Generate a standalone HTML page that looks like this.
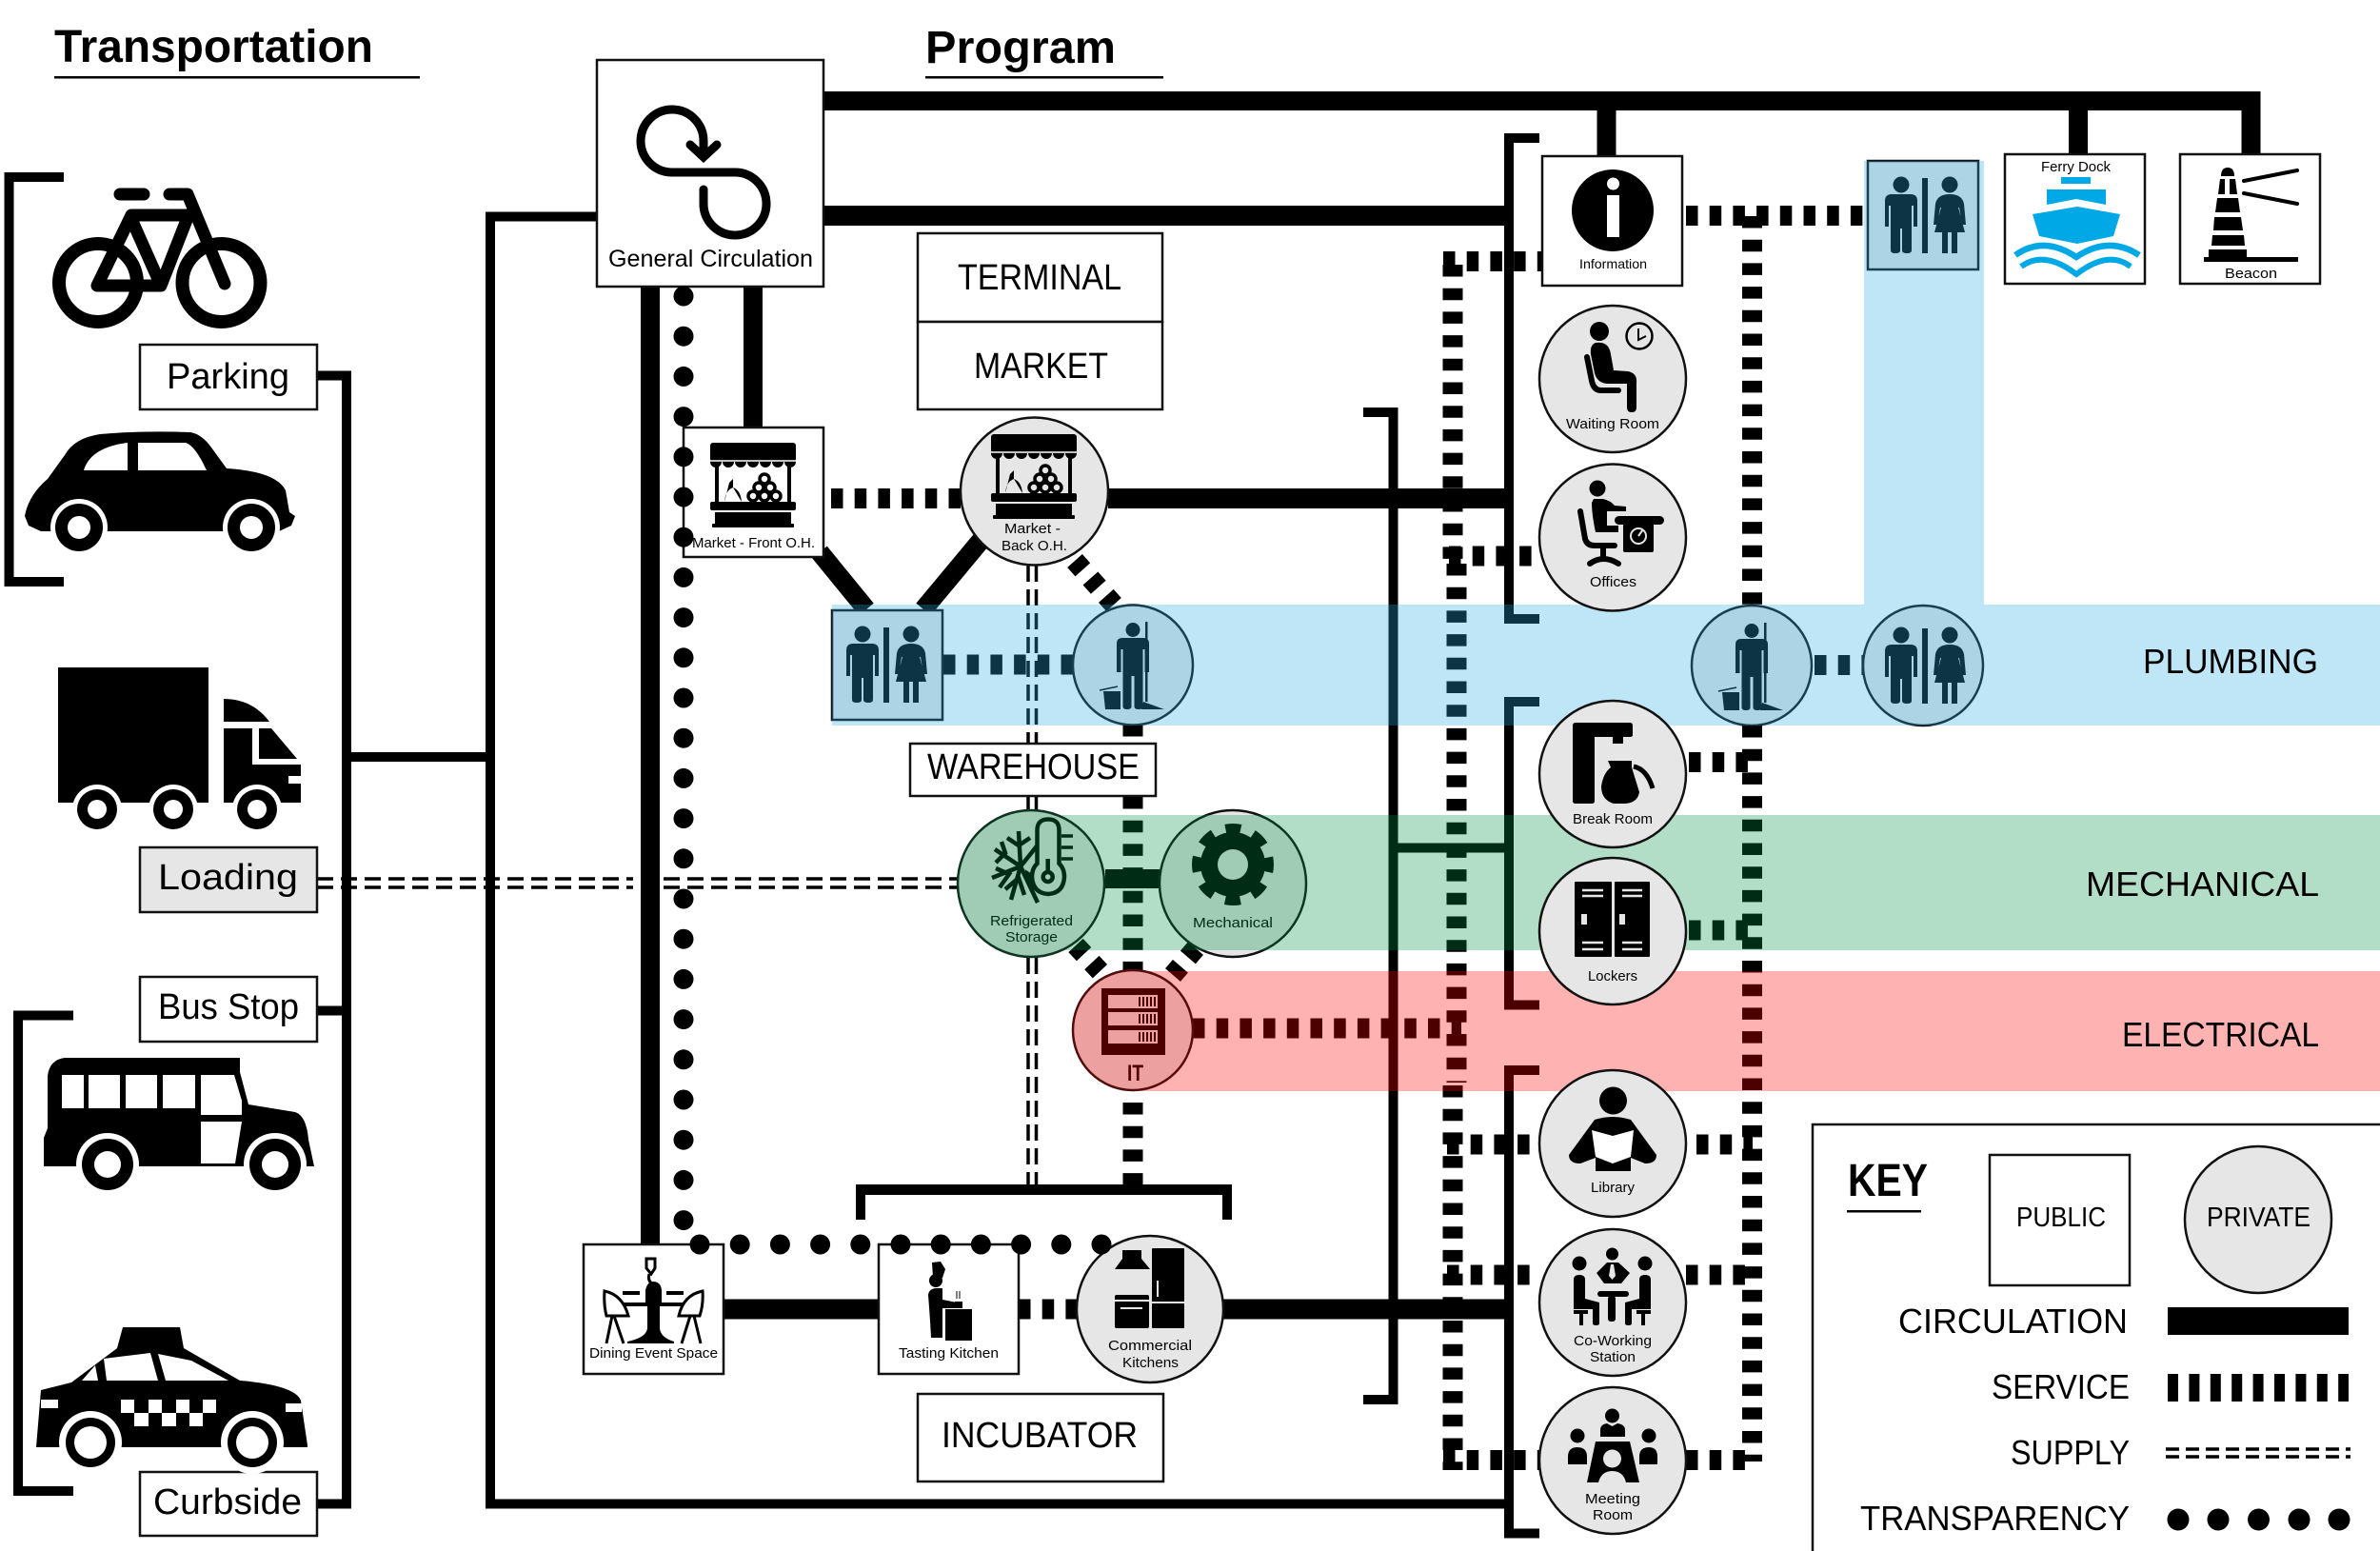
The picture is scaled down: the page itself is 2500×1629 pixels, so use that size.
<!DOCTYPE html>
<html><head><meta charset="utf-8"><style>
html,body{margin:0;padding:0;background:#fff}
svg{display:block}
text{font-family:"Liberation Sans",sans-serif;fill:#000}
.c{fill:none;stroke:#000}
.s{fill:none;stroke:#000;stroke-width:21;stroke-dasharray:12.5 12.2}
.d{fill:none;stroke:#000;stroke-width:21;stroke-linecap:round;stroke-dasharray:0 42.2}
.u{fill:none;stroke:#000;stroke-width:3.5;stroke-dasharray:17 8}
.b{fill:#fff;stroke:#111;stroke-width:2.5}
.g{fill:#e6e6e6;stroke:#111;stroke-width:2.5}
</style></head><body>
<svg xmlns="http://www.w3.org/2000/svg" width="2500" height="1629" viewBox="0 0 2500 1629">
<defs>
<g id="rr" fill="#000">
<circle cx="-23" cy="-32" r="8.5"/>
<path d="M-40 12V-15Q-40-22-33-22H-13Q-6-22-6-15V12H-10V-10H-12V37Q-12 40-17 40Q-22 40-22 37V14H-24V37Q-24 40-29 40Q-34 40-34 37V-10H-36V12Z"/>
<rect x="-1" y="-39" width="6" height="79"/>
<circle cx="28" cy="-32" r="8.5"/>
<path d="M11 10L13-12Q15-22 28-22Q41-22 43-12L45 10H41L38-8H37L44 18H36V40H30V18H26V40H20V18H12L19-8H18L15 10Z"/>
</g>
<g id="jan" fill="#000">
<circle cx="0" cy="-36.5" r="7.5"/>
<path d="M-17 8V-22Q-17-28-11-28H11Q17-28 17-22V8H12.5V-16H10.5V44Q10.5 47 6 47Q1.5 47 1.5 44V12H-1.5V44Q-1.5 47-6 47Q-10.5 47-10.5 44V-16H-12.5V8Z"/>
<rect x="13" y="-45" width="2.5" height="84"/>
<path d="M11 39L33 47H9Z"/>
<path d="M-31 28H-13V47H-29Z"/>
<path d="M-35 27L-16 23" stroke="#000" stroke-width="1.5"/>
</g>
<g id="stall">
<rect x="0" y="0" width="90" height="20" rx="3"/>
<g><circle cx="6" cy="20" r="6"/><circle cx="19" cy="20" r="6"/><circle cx="32" cy="20" r="6"/><circle cx="45" cy="20" r="6"/><circle cx="58" cy="20" r="6"/><circle cx="71" cy="20" r="6"/><circle cx="84" cy="20" r="6"/></g>
<path d="M0 19H90" stroke="#fff" stroke-width="1.5"/>
<rect x="5" y="24" width="4" height="40"/><rect x="81" y="24" width="4" height="40"/>
<rect x="0" y="62" width="90" height="9" rx="2"/>
<rect x="5" y="73" width="80" height="14"/><rect x="2" y="85" width="86" height="4" rx="1"/>
<path d="M15 62Q16 50 24 47L24 38L20 42M24 47Q32 50 33 62Z"/>
<g fill="none" stroke="#000" stroke-width="3.5"><circle cx="45" cy="56" r="5"/><circle cx="57" cy="56" r="5"/><circle cx="69" cy="56" r="5"/><circle cx="51" cy="47" r="5"/><circle cx="63" cy="47" r="5"/><circle cx="57" cy="38" r="5"/></g>
</g>
<clipPath id="gc"><circle cx="1083" cy="928" r="78"/><rect x="1083" y="856" width="1417" height="142"/></clipPath>
<clipPath id="rc"><circle cx="1190" cy="1082" r="64"/><rect x="1190" y="1020" width="1310" height="126"/></clipPath>
</defs>

<!-- headings -->
<text x="57" y="65" font-size="48" font-weight="700" textLength="335" lengthAdjust="spacingAndGlyphs">Transportation</text>
<rect x="57" y="80" width="384" height="2.5"/>
<text x="972" y="66" font-size="48" font-weight="700" textLength="200" lengthAdjust="spacingAndGlyphs">Program</text>
<rect x="972" y="80" width="250" height="2.5"/>

<!-- left connectors -->
<path class="c" stroke-width="10" d="M333 394.5H364V1579.5H333M369 795H515M627 227.5H515V1579.5H1585"/>
<path class="c" stroke-width="10" d="M333 1061.5H364"/>
<path class="c" stroke-width="10" d="M67 186H9.5V611H67"/>
<path class="c" stroke-width="10" d="M77 1066.5H19V1566H77"/>

<!-- supply horizontal -->
<path class="u" d="M333 923H665M333 932H665M697 923H1010M697 932H1010"/>

<!-- thick -->
<path class="c" stroke-width="20" d="M683 301V1310M791 301V449"/>
<path class="c" stroke-width="20" d="M865 106H2364.5V162M1687.5 106V164M2183 106V162"/>
<path class="c" stroke-width="21" d="M865 226.5H1585M1164 523.5H1585M760 1375H923M1285 1375H1585"/>
<path class="c" stroke-width="20" d="M861 580L910 640M1030 568L970 640"/>
<path class="c" stroke-width="20" d="M1161 923H1218"/>

<!-- centre bracket -->
<path class="c" stroke-width="10" d="M1432 433H1463.5V1470H1432M1468 890.5H1585"/>
<!-- right brackets -->
<path class="c" stroke-width="10" d="M1617 145H1585V650H1617"/>
<path class="c" stroke-width="10" d="M1617 737H1585V1055.5H1617"/>
<path class="c" stroke-width="10" d="M1617 1124H1585V1610.5H1617"/>
<!-- incubator bracket -->
<path d="M899 1281V1244H1294V1281H1284V1255H909V1281Z"/>

<!-- supply verticals -->
<path class="u" stroke-dasharray="18 8" d="M1080 594V781M1088.5 594V781M1080 836V855M1088.5 836V855M1080 1006V1244M1088.5 1006V1244"/>

<!-- service -->
<path class="s" d="M873 523.5H1009"/>
<path class="s" d="M1129 589L1170 635" stroke-width="20"/>
<path class="s" d="M991 698H1127"/>
<path class="s" d="M1190 761V781M1190 837V1020"/>
<path class="s" d="M1190 1158V1244"/>
<path class="s" d="M1130 993L1160 1025"/>
<path class="s" d="M1256 996L1232 1024"/>
<path class="s" d="M1253 1080H1535"/>
<path class="s" d="M1070 1375H1132"/>
<path class="s" d="M1526 278V590"/>
<path class="s" d="M1530 592V1137"/>
<path class="s" d="M1526 1140V1544"/>
<path class="s" d="M1840.5 227V636"/>
<path class="s" d="M1840.5 762V1535"/>
<path class="s" d="M1516 274.5H1621"/>
<path class="s" d="M1522 584H1617"/>
<path class="s" d="M1520 1202H1617"/>
<path class="s" d="M1520 1339H1617"/>
<path class="s" d="M1516 1533.5H1617"/>
<path class="s" d="M1771 226.5H1962"/>
<path class="s" d="M1774 800.5H1841"/>
<path class="s" d="M1774 977H1841"/>
<path class="s" d="M1782 1202H1841"/>
<path class="s" d="M1771 1339H1841"/>
<path class="s" d="M1771 1533.5H1841"/>
<path class="s" d="M1906 698.5H1957"/>

<!-- tinted elements -->
<rect class="g" x="874" y="641" width="116" height="115"/>
<use href="#rr" x="929" y="698"/>
<rect class="g" x="1962" y="169" width="116" height="114"/>
<use href="#rr" x="2020" y="226"/>
<circle class="g" cx="1190" cy="698.5" r="63"/>
<use href="#jan" x="1190" y="698"/>
<circle class="g" cx="1840" cy="699" r="63"/>
<use href="#jan" x="1840" y="699"/>
<circle class="g" cx="2020" cy="699" r="63"/>
<use href="#rr" x="2020" y="699"/>
<circle class="g" cx="1083" cy="928" r="77"/>
<circle class="g" cx="1295" cy="928" r="77"/>
<circle class="g" cx="1190" cy="1082" r="63"/>
<!-- refrigerated icon -->
<g fill="none" stroke="#000" stroke-width="4.5">
<path d="M1072 910L1070 873M1072 910L1045 892M1072 910L1042 922M1072 910L1062 945M1072 910L1090 948M1072 910L1092 885"/>
<path d="M1058 880L1070 888L1082 880M1046 906L1056 896L1052 884M1050 932L1060 918L1046 912M1076 940L1070 922L1056 934M1092 926L1080 918L1084 936"/>
<path d="M1089.5 907V872Q1089.5 860.5 1101 860.5Q1112.5 860.5 1112.5 872V907Q1118 912 1118 921Q1117 938 1101 939Q1085 938 1084 921Q1084 912 1089.5 907Z" fill="#e6e6e6"/>
<circle cx="1100.7" cy="921" r="5"/><path d="M1100.7 902V916"/>
<path d="M1115 878H1127M1115 890H1127M1115 902H1127" stroke-width="3.5"/>
</g>
<!-- gear -->
<circle cx="1295" cy="908" r="34"/>
<circle cx="1295" cy="908" r="38" fill="none" stroke="#000" stroke-width="10" stroke-dasharray="16 13.85" stroke-dashoffset="8"/>
<circle cx="1295" cy="908" r="16" fill="#e6e6e6"/>
<!-- IT icon -->
<rect x="1157" y="1038" width="67" height="70"/>
<g fill="#e6e6e6"><rect x="1164" y="1045" width="52" height="14"/><rect x="1164" y="1063" width="52" height="14"/><rect x="1164" y="1082" width="52" height="14"/></g>
<path d="M1197 1047V1057M1201 1047V1057M1205 1047V1057M1209 1047V1057M1213 1047V1057M1197 1065V1075M1201 1065V1075M1205 1065V1075M1209 1065V1075M1213 1065V1075M1197 1084V1094M1201 1084V1094M1205 1084V1094M1209 1084V1094M1213 1084V1094" stroke="#000" stroke-width="2"/>
<text x="1184" y="1135" font-size="24" font-weight="700" textLength="17" lengthAdjust="spacingAndGlyphs">IT</text>
<text x="1040" y="972" font-size="15" textLength="87" lengthAdjust="spacingAndGlyphs">Refrigerated</text>
<text x="1056" y="989" font-size="15" textLength="55" lengthAdjust="spacingAndGlyphs">Storage</text>
<text x="1253" y="974" font-size="15" textLength="84" lengthAdjust="spacingAndGlyphs">Mechanical</text>

<!-- bands -->
<rect x="874" y="635" width="1626" height="127" fill="#29abe2" fill-opacity=".3"/>
<rect x="1958" y="169" width="126" height="466" fill="#29abe2" fill-opacity=".3"/>
<rect x="1000" y="850" width="1500" height="160" fill="#009245" fill-opacity=".3" clip-path="url(#gc)"/>
<rect x="1120" y="1015" width="1380" height="135" fill="#ff0000" fill-opacity=".3" clip-path="url(#rc)"/>
<text x="2251" y="707" font-size="36" textLength="184" lengthAdjust="spacingAndGlyphs">PLUMBING</text>
<text x="2191" y="941" font-size="36" textLength="245" lengthAdjust="spacingAndGlyphs">MECHANICAL</text>
<text x="2229" y="1099" font-size="36" textLength="207" lengthAdjust="spacingAndGlyphs">ELECTRICAL</text>

<!-- transportation boxes -->
<rect class="b" x="147" y="362" width="186" height="68"/>
<text x="175" y="408" font-size="38" textLength="129" lengthAdjust="spacingAndGlyphs">Parking</text>
<rect class="g" x="147" y="890" width="186" height="68"/>
<text x="166" y="934" font-size="38" textLength="147" lengthAdjust="spacingAndGlyphs">Loading</text>
<rect class="b" x="147" y="1026" width="186" height="68"/>
<text x="166" y="1070" font-size="38" textLength="148" lengthAdjust="spacingAndGlyphs">Bus Stop</text>
<rect class="b" x="147" y="1546" width="186" height="67"/>
<text x="161" y="1590" font-size="38" textLength="156" lengthAdjust="spacingAndGlyphs">Curbside</text>

<!-- bicycle -->
<g fill="none" stroke="#000" stroke-linecap="round" stroke-linejoin="round">
<circle cx="103" cy="297" r="41" stroke-width="14"/><circle cx="232.5" cy="297" r="41" stroke-width="14"/>
<path d="M126 204H151M178 204H197L236 298M138 226H198M138 226L102 300H169L198 226M138 230L166 293" stroke-width="13"/>
</g>
<!-- car -->
<path d="M26 542Q30 520 50 503L68 478Q78 460 105 456Q150 452 200 454Q212 456 222 470L238 492Q290 495 300 515L304 538L310 542L306 552L293 558H43L30 552Z"/>
<path d="M88 494Q95 470 134 465V494ZM145 465H195Q205 468 217 494H145Z" fill="#fff"/>
<circle cx="83" cy="554" r="30" fill="#fff"/><circle cx="83" cy="554" r="25"/><circle cx="83" cy="554" r="12" fill="#fff"/>
<circle cx="264" cy="554" r="30" fill="#fff"/><circle cx="264" cy="554" r="25"/><circle cx="264" cy="554" r="12" fill="#fff"/>
<rect x="40" y="558" width="18" height="3" fill="#fff"/><rect x="110" y="558" width="125" height="3" fill="#fff"/>
<!-- truck -->
<rect x="61" y="701" width="158" height="142"/>
<path d="M235 734Q265 734 283 758H235ZM272 765H285L312 797H272ZM235 765H265V803H316V843H235Z"/>
<rect x="303" y="815" width="13" height="8" fill="#fff"/>
<circle cx="102" cy="850" r="26" fill="#fff"/><circle cx="102" cy="850" r="21"/><circle cx="102" cy="850" r="10" fill="#fff"/>
<circle cx="182" cy="850" r="26" fill="#fff"/><circle cx="182" cy="850" r="21"/><circle cx="182" cy="850" r="10" fill="#fff"/>
<circle cx="270" cy="850" r="26" fill="#fff"/><circle cx="270" cy="850" r="21"/><circle cx="270" cy="850" r="10" fill="#fff"/>
<!-- bus -->
<path d="M46 1225V1195L50 1185V1130Q52 1113 68 1111H252V1126L261 1160L310 1168Q322 1172 324 1197L330 1225Z"/>
<path fill="#fff" d="M65 1129H88V1164H65ZM93 1129H126V1164H93ZM132 1129H165V1164H132ZM171 1129H205V1164H171ZM211 1129H246L254 1156V1171H211ZM211 1178H254L247 1222H211Z"/>
<circle cx="113" cy="1223" r="33" fill="#fff"/><circle cx="113" cy="1223" r="27"/><circle cx="113" cy="1223" r="14" fill="#fff"/>
<circle cx="289" cy="1223" r="33" fill="#fff"/><circle cx="289" cy="1223" r="27"/><circle cx="289" cy="1223" r="14" fill="#fff"/>
<!-- taxi -->
<path d="M129 1394H189L193 1416L252 1450Q310 1455 316 1471L323 1518V1520H38L43 1460L75 1452L123 1416Z"/>
<path fill="#fff" d="M86 1450L100 1434L103 1450ZM112 1450L109 1427L158 1421L166 1450ZM174 1450L166 1422L201 1429L240 1450Z"/>
<path fill="#fff" d="M127 1470h14v14h-14zM156 1470h14v14h-14zM185 1470h14v14h-14zM213 1470h14v14h-14zM141 1484h15v14h-15zM170 1484h15v14h-15zM199 1484h14v14h-14zM43 1470h18v9H43zM300 1474h17v9h-17z"/>
<circle cx="95" cy="1515" r="33" fill="#fff"/><circle cx="95" cy="1515" r="26"/><circle cx="95" cy="1515" r="17" fill="#fff"/>
<circle cx="265" cy="1515" r="33" fill="#fff"/><circle cx="265" cy="1515" r="26"/><circle cx="265" cy="1515" r="17" fill="#fff"/>

<!-- general circulation -->
<rect class="b" x="627" y="63" width="238" height="238"/>
<path d="M739 163V148A33 33 0 1 0 705 181H772A33 33 0 1 1 739 214V199" fill="none" stroke="#000" stroke-width="9" stroke-linecap="round"/>
<path d="M725 152L739 165L753 152" fill="none" stroke="#000" stroke-width="9" stroke-linecap="round"/>
<text x="639" y="280" font-size="25" textLength="215" lengthAdjust="spacingAndGlyphs">General Circulation</text>

<!-- program boxes -->
<rect class="b" x="964" y="245" width="257" height="93"/>
<text x="1006" y="304" font-size="38" textLength="172" lengthAdjust="spacingAndGlyphs">TERMINAL</text>
<rect class="b" x="964" y="338" width="257" height="92"/>
<text x="1023" y="397" font-size="38" textLength="141" lengthAdjust="spacingAndGlyphs">MARKET</text>
<rect class="b" x="956" y="781" width="258" height="55"/>
<text x="974" y="818" font-size="38" textLength="223" lengthAdjust="spacingAndGlyphs">WAREHOUSE</text>
<rect class="b" x="964" y="1464" width="258" height="92"/>
<text x="989" y="1520" font-size="38" textLength="206" lengthAdjust="spacingAndGlyphs">INCUBATOR</text>

<!-- market -->
<rect class="b" x="718" y="449" width="147" height="136"/>
<use href="#stall" x="746" y="465"/>
<text x="727" y="575" font-size="15" textLength="129" lengthAdjust="spacingAndGlyphs">Market - Front O.H.</text>
<circle class="g" cx="1086.5" cy="516" r="77.5"/>
<use href="#stall" x="1041" y="456"/>
<text x="1055" y="560" font-size="15" textLength="59" lengthAdjust="spacingAndGlyphs">Market -</text>
<text x="1052" y="578" font-size="15" textLength="69" lengthAdjust="spacingAndGlyphs">Back O.H.</text>

<!-- dining -->
<rect class="b" x="613" y="1307" width="147" height="136"/>
<g>
<path d="M679 1322H688L688 1332L684 1338L679 1332Z" fill="#fff" stroke="#000" stroke-width="3"/>
<path d="M682 1338Q680 1345 685 1348" fill="none" stroke="#000" stroke-width="3"/>
<path d="M678 1355Q680 1346 686 1346Q694 1346 695 1355V1368H720V1372H650V1368H678Z"/>
<path d="M680 1372H693V1395Q694 1405 708 1409V1411H659V1409Q679 1405 680 1395Z"/>
<rect x="654" y="1356" width="18" height="4"/><rect x="700" y="1356" width="18" height="4"/>
<path d="M635 1356Q654 1360 660 1382H637Q634 1370 635 1356ZM738 1356Q718 1360 713 1382H735Q739 1370 738 1356Z" fill="#fff" stroke="#000" stroke-width="3"/>
<path d="M643 1382L637 1411M645 1382L655 1411M729 1382L736 1411M725 1382L716 1411" stroke="#000" stroke-width="3"/>
</g>
<text x="619" y="1426" font-size="15" textLength="135" lengthAdjust="spacingAndGlyphs">Dining Event Space</text>

<!-- tasting -->
<rect class="b" x="923" y="1307" width="147" height="136"/>
<g>
<path d="M979 1326L988 1325L993 1333L990 1342H980Z"/>
<circle cx="983" cy="1345" r="7"/>
<path d="M975 1360Q976 1353 984 1353H990V1365L1005 1368V1374H990V1405H978Q977 1385 975 1360Z"/>
<rect x="993" y="1375" width="28" height="33"/>
<rect x="1003" y="1367" width="8" height="7"/>
<path d="M1005 1356V1364M1008 1356V1364" stroke="#000" stroke-width="1"/>
</g>
<text x="944" y="1426" font-size="15" textLength="105" lengthAdjust="spacingAndGlyphs">Tasting Kitchen</text>

<!-- commercial -->
<circle class="g" cx="1208" cy="1375" r="77"/>
<path d="M1179 1313H1199V1322H1199L1208 1333H1171L1179 1322Z"/>
<rect x="1210" y="1311" width="34" height="84" rx="1"/>
<path d="M1210 1368H1244M1216 1345V1362" stroke="#e6e6e6" stroke-width="2"/>
<rect x="1171" y="1360" width="36" height="35" rx="2"/>
<path d="M1171 1366H1207M1177 1374H1200" stroke="#e6e6e6" stroke-width="2"/>
<text x="1164" y="1418" font-size="15" textLength="88" lengthAdjust="spacingAndGlyphs">Commercial</text>
<text x="1179" y="1436" font-size="15" textLength="59" lengthAdjust="spacingAndGlyphs">Kitchens</text>

<!-- transparency dots -->
<path class="d" d="M718 311V1300"/>
<path class="d" d="M735 1307H1165"/>

<!-- information -->
<rect class="b" x="1620" y="164" width="147" height="136"/>
<ellipse cx="1694" cy="221" rx="43" ry="43"/>
<circle cx="1694.5" cy="193" r="6.5" fill="#fff"/><rect x="1688" y="205" width="13" height="44" fill="#fff"/>
<text x="1659" y="282" font-size="14" textLength="71" lengthAdjust="spacingAndGlyphs">Information</text>

<!-- ferry -->
<rect class="b" x="2106" y="162" width="147" height="136"/>
<text x="2144" y="180" font-size="15" textLength="73" lengthAdjust="spacingAndGlyphs">Ferry Dock</text>
<g fill="#00a9e6"><rect x="2165" y="186" width="31" height="7"/><path d="M2150 199H2212V215L2181 209L2150 215Z"/><path d="M2135 225L2182 217L2227 225L2220 248L2182 256L2142 248Z"/></g>
<path d="M2117 268Q2147 247 2181 270Q2215 247 2247 268" fill="none" stroke="#00a9e6" stroke-width="6.5"/>
<path d="M2123 280Q2147 262 2181 288Q2215 262 2238 280" fill="none" stroke="#00a9e6" stroke-width="6"/>

<!-- beacon -->
<rect class="b" x="2290" y="162" width="147" height="136"/>
<path d="M2333 185Q2333 176 2340 176Q2347 176 2347 185ZM2332 188H2337V204H2330ZM2342 188H2348L2350 204H2342ZM2329 208H2351L2353 223H2327ZM2326 228H2354L2356 242H2325ZM2324 247H2357L2358 258H2323ZM2320 262H2360V270H2414V275H2315V270H2320Z"/>
<path d="M2357 190L2413 179M2357 203L2413 214" stroke="#000" stroke-width="4" stroke-linecap="round"/>
<text x="2337" y="292" font-size="15" textLength="55" lengthAdjust="spacingAndGlyphs">Beacon</text>

<!-- waiting -->
<circle class="g" cx="1694" cy="398" r="77"/>
<circle cx="1680" cy="348" r="10"/>
<circle cx="1722" cy="353" r="13.5" fill="none" stroke="#000" stroke-width="2.5"/><path d="M1721 345V357L1729 353" fill="none" stroke="#000" stroke-width="2"/>
<path d="M1676 360Q1690 358 1692 372L1695 389L1710 390Q1720 392 1719 402V428Q1719 433 1714 433Q1709 433 1709 428V403H1690Q1678 403 1675 392L1671 372Q1670 362 1676 360Z"/>
<path d="M1667 375L1672 400Q1674 410 1682 410H1700" fill="none" stroke="#000" stroke-width="6" stroke-linecap="round"/>
<text x="1645" y="450" font-size="15" textLength="98" lengthAdjust="spacingAndGlyphs">Waiting Room</text>

<!-- offices -->
<circle class="g" cx="1694" cy="564.5" r="77"/>
<circle cx="1678" cy="513" r="8.5"/>
<path d="M1674 524H1684Q1692 526 1696 531L1708 532V537H1688V552H1700V559H1676Q1672 540 1672 528Z"/>
<path d="M1660 537L1665 566Q1667 573 1675 573H1696M1684 574V586M1670 592Q1684 582 1700 592" fill="none" stroke="#000" stroke-width="6" stroke-linecap="round"/>
<rect x="1696" y="542" width="52" height="9" rx="4.5"/>
<rect x="1705" y="550" width="32" height="30" rx="2"/>
<circle cx="1721" cy="563" r="8" fill="none" stroke="#e6e6e6" stroke-width="2"/>
<path d="M1721 563L1726 556" stroke="#e6e6e6" stroke-width="2"/>
<text x="1670" y="616" font-size="15" textLength="49" lengthAdjust="spacingAndGlyphs">Offices</text>

<!-- break -->
<circle class="g" cx="1694" cy="813" r="77"/>
<path d="M1655 759H1712Q1715 759 1715 762V772Q1715 774 1712 774H1675V841Q1675 844 1672 844H1655Q1652 844 1652 841V762Q1652 759 1655 759Z"/>
<rect x="1694" y="773" width="11" height="8"/>
<path d="M1689 799H1714V806L1722 832Q1720 844 1705 844H1695Q1682 840 1682 826Q1684 812 1692 806Z"/>
<path d="M1716 805Q1730 808 1736 828" fill="none" stroke="#000" stroke-width="5"/>
<text x="1652" y="865" font-size="15" textLength="84" lengthAdjust="spacingAndGlyphs">Break Room</text>

<!-- lockers -->
<circle class="g" cx="1694" cy="978" r="77"/>
<rect x="1654" y="926" width="39" height="79" rx="1"/><rect x="1696" y="926" width="37" height="79" rx="1"/>
<path d="M1662 935H1684M1662 941H1684M1662 990H1684M1662 997H1684M1704 935H1725M1704 941H1725M1704 990H1725M1704 997H1725" stroke="#e6e6e6" stroke-width="2.5"/>
<rect x="1661" y="960" width="6" height="11" fill="#e6e6e6"/><rect x="1701" y="960" width="6" height="11" fill="#e6e6e6"/>
<text x="1668" y="1030" font-size="15" textLength="52" lengthAdjust="spacingAndGlyphs">Lockers</text>

<!-- library -->
<circle class="g" cx="1694" cy="1201" r="77"/>
<circle cx="1694.5" cy="1156" r="14.5"/>
<path d="M1675 1176Q1694 1170 1713 1176L1740 1213Q1740 1222 1728 1222L1713 1216V1230H1676V1216L1660 1222Q1648 1222 1648 1213Z"/>
<path d="M1672 1187L1694 1193L1716 1187L1713 1215L1694 1222L1676 1215Z" fill="#fff"/>
<text x="1671" y="1252" font-size="15" textLength="46" lengthAdjust="spacingAndGlyphs">Library</text>

<!-- coworking -->
<circle class="g" cx="1694" cy="1368" r="77"/>
<circle cx="1693.5" cy="1317" r="6.5"/><circle cx="1659" cy="1327" r="7.5"/><circle cx="1728" cy="1327" r="7.5"/>
<path d="M1688 1326H1700L1712 1337L1703 1348H1685L1677 1337Z"/>
<path d="M1692 1328H1695L1697 1340L1693.5 1344L1690 1340Z" fill="#e6e6e6"/>
<rect x="1678" y="1356" width="33" height="6" rx="3"/><rect x="1689" y="1361" width="8" height="27" rx="3"/>
<g id="cw"><path d="M1653 1344Q1653 1339 1659 1339Q1665 1339 1665 1344V1364L1680 1368V1390Q1680 1392 1676.500 1392Q1673 1392 1673 1390V1375H1653Z"/><path d="M1653 1376H1668V1380H1663V1392H1659V1380H1653Z"/></g>
<use href="#cw" transform="translate(3387 0) scale(-1 1)"/>
<text x="1653" y="1413" font-size="15" textLength="82" lengthAdjust="spacingAndGlyphs">Co-Working</text>
<text x="1670" y="1430" font-size="15" textLength="48" lengthAdjust="spacingAndGlyphs">Station</text>

<!-- meeting -->
<circle class="g" cx="1694" cy="1534" r="77"/>
<circle cx="1693.500" cy="1487" r="7.5"/><circle cx="1657" cy="1508" r="7.5"/><circle cx="1732" cy="1508" r="7.5"/>
<path d="M1681 1509V1502Q1681 1496 1688 1495L1693.500 1498L1699 1495Q1707 1496 1707 1502V1509Z"/>
<path d="M1647 1538V1530Q1647 1520 1657 1520Q1667 1520 1667 1530V1538ZM1722 1538V1530Q1722 1520 1732 1520Q1741 1520 1741 1530V1538Z"/>
<path d="M1676 1514H1712L1722 1557H1708Q1705 1545 1693.500 1545Q1682 1545 1679 1557H1667Z"/>
<circle cx="1693.500" cy="1532" r="9.5" fill="#e6e6e6"/>
<text x="1665" y="1579" font-size="15" textLength="58" lengthAdjust="spacingAndGlyphs">Meeting</text>
<text x="1673" y="1596" font-size="15" textLength="42" lengthAdjust="spacingAndGlyphs">Room</text>

<!-- key -->
<path d="M1904 1629V1181H2500" fill="none" stroke="#111" stroke-width="2.5"/>
<text x="1941" y="1256" font-size="48" font-weight="700" textLength="84" lengthAdjust="spacingAndGlyphs">KEY</text>
<rect x="1940" y="1271" width="78" height="2.5"/>
<rect class="b" x="2090" y="1213" width="147" height="137"/>
<text x="2118" y="1288" font-size="29" textLength="94" lengthAdjust="spacingAndGlyphs">PUBLIC</text>
<circle class="g" cx="2372" cy="1281" r="77"/>
<text x="2318" y="1288" font-size="29" textLength="109" lengthAdjust="spacingAndGlyphs">PRIVATE</text>
<text x="1994" y="1400" font-size="36" textLength="241" lengthAdjust="spacingAndGlyphs">CIRCULATION</text>
<rect x="2277" y="1373" width="190" height="29"/>
<text x="2092" y="1469" font-size="36" textLength="145" lengthAdjust="spacingAndGlyphs">SERVICE</text>
<path d="M2277 1457.5H2467" fill="none" stroke="#000" stroke-width="29" stroke-dasharray="11 11.4"/>
<text x="2112" y="1538" font-size="36" textLength="125" lengthAdjust="spacingAndGlyphs">SUPPLY</text>
<path d="M2275 1522H2469M2275 1530H2469" fill="none" stroke="#000" stroke-width="3.5" stroke-dasharray="14 7"/>
<text x="1954" y="1607" font-size="36" textLength="283" lengthAdjust="spacingAndGlyphs">TRANSPARENCY</text>
<g><circle cx="2288" cy="1596" r="11.5"/><circle cx="2330" cy="1596" r="11.5"/><circle cx="2372.5" cy="1596" r="11.5"/><circle cx="2415" cy="1596" r="11.5"/><circle cx="2457" cy="1596" r="11.5"/></g>
</svg>
</body></html>
